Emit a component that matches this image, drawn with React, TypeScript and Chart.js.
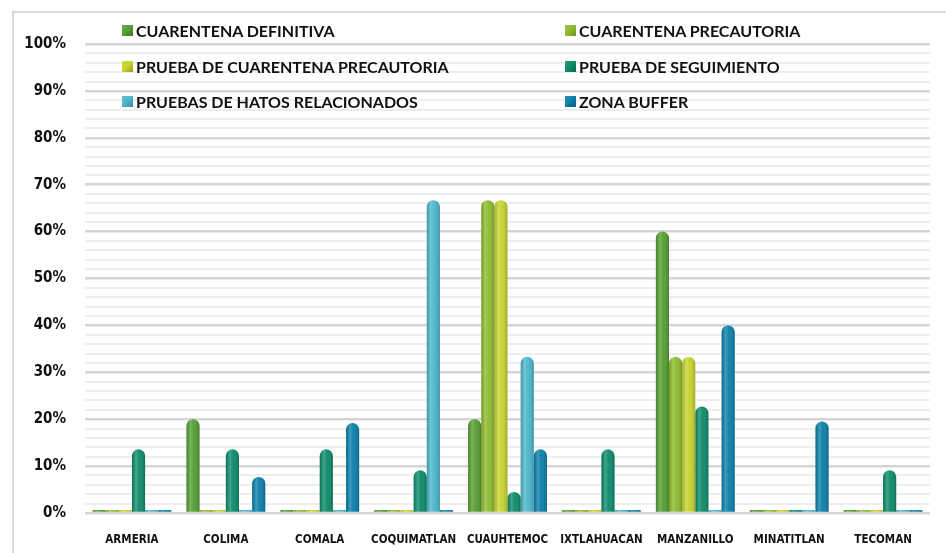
import React, { useEffect, useRef } from "react";
import { Chart, registerables } from "chart.js";

Chart.register(...registerables);

const categories = ["ARMERIA", "COLIMA", "COMALA", "COQUIMATLAN", "CUAUHTEMOC", "IXTLAHUACAN", "MANZANILLO", "MINATITLAN", "TECOMAN"];
const seriesNames = [
  "CUARENTENA DEFINITIVA",
  "CUARENTENA PRECAUTORIA",
  "PRUEBA DE CUARENTENA PRECAUTORIA",
  "PRUEBA DE SEGUIMIENTO",
  "PRUEBAS DE HATOS RELACIONADOS",
  "ZONA BUFFER",
];
const cuarentenaDefinitiva = [0, 20, 0, 0, 20, 0, 60, 0, 0];
const cuarentenaPrecautoria = [0, 0, 0, 0, 66.7, 0, 33.3, 0, 0];
const pruebaCuarentenaPrecautoria = [0, 0, 0, 0, 66.7, 0, 33.3, 0, 0];
const pruebaSeguimiento = [13.6, 13.6, 13.6, 9.1, 4.5, 13.6, 22.7, 0, 9.1];
const pruebasHatos = [0, 0, 0, 66.7, 33.3, 0, 0, 0, 0];
const zonaBuffer = [0, 7.7, 19.2, 0, 13.6, 0, 40, 19.5, 0];
const seriesColors = ["#559d33", "#8dbb2f", "#c6d32f", "#0d8a6b", "#4bb6ca", "#0b7ea8"];
const yTickStep = 2;
const yLabelStep = 10;

const cylinderPlugin = {
  id: "cylinder",
  afterDatasetsDraw(chart: any) {
    const ctx = chart.ctx;
    chart.data.datasets.forEach((_ds: any, i: number) => {
      const meta = chart.getDatasetMeta(i);
      meta.data.forEach((el: any) => {
        const { x, y, base, width } = el.getProps(["x", "y", "base", "width"], true);
        const left = x - width / 2;
        const top = Math.min(y, base);
        const h = Math.abs(base - y);
        if (h <= 0) return;
        const g = ctx.createLinearGradient(left, 0, left + width, 0);
        g.addColorStop(0, "rgba(0,0,0,0.12)");
        g.addColorStop(0.3, "rgba(255,255,255,0.22)");
        g.addColorStop(0.55, "rgba(255,255,255,0.04)");
        g.addColorStop(1, "rgba(0,0,0,0.2)");
        const r = Math.min(width / 2, h);
        ctx.save();
        ctx.beginPath();
        ctx.roundRect(left, top, width, h, [r, r, 0, 0]);
        ctx.fillStyle = g;
        ctx.fill();
        ctx.restore();
      });
    });
  },
};

export default function App() {
  const canvasRef = useRef<HTMLCanvasElement | null>(null);

  useEffect(() => {
    const values = [cuarentenaDefinitiva, cuarentenaPrecautoria, pruebaCuarentenaPrecautoria, pruebaSeguimiento, pruebasHatos, zonaBuffer];
    const chart = new Chart(canvasRef.current as HTMLCanvasElement, {
      type: "bar",
      data: {
        labels: categories,
        datasets: values.map((d, i) => ({
          label: seriesNames[i],
          data: d,
          backgroundColor: seriesColors[i],
          borderRadius: 7,
          borderSkipped: "start",
          minBarLength: 3,
          barPercentage: 1,
          categoryPercentage: 0.84,
        })),
      },
      options: {
        animation: false,
        responsive: true,
        maintainAspectRatio: false,
        layout: { padding: { top: 44, right: 16, bottom: 0, left: 0 } },
        plugins: { legend: { display: false }, tooltip: { enabled: false } },
        scales: {
          x: {
            grid: { display: false },
            border: { display: false },
            afterFit: (s: any) => {
              s.height = 40;
            },
            ticks: {
              padding: 12,
              color: "#111",
              font: { family: "'DejaVu Sans Condensed', 'DejaVu Sans'", size: 11.5, weight: "bold" },
              autoSkip: false,
              maxRotation: 0,
            },
          },
          y: {
            min: 0,
            max: 100,
            border: { display: false },
            afterFit: (s: any) => {
              s.width = 85;
            },
            grid: {
              drawTicks: false,
              color: (c: any) => (c.tick && c.tick.value % yLabelStep === 0 ? "#d5d5d5" : "#eeeeee"),
              lineWidth: (c: any) => (c.tick && c.tick.value % yLabelStep === 0 ? 2.5 : 2),
            },
            ticks: {
              stepSize: yTickStep,
              autoSkip: false,
              padding: 19,
              color: "#111",
              font: { family: "'DejaVu Sans Condensed', 'DejaVu Sans'", size: 15, weight: "bold" },
              callback: (v: any) => (Number(v) % yLabelStep === 0 ? v + "%" : ""),
            },
          },
        },
      },
      plugins: [cylinderPlugin],
    } as any);
    return () => chart.destroy();
  }, []);

  const legendPos = [
    { left: 122, top: 30 },
    { left: 565, top: 30 },
    { left: 122, top: 66 },
    { left: 565, top: 66 },
    { left: 122, top: 101 },
    { left: 565, top: 101 },
  ];

  return (
    <div style={{ position: "fixed", left: 0, top: 0, width: 946, height: 553, background: "#fff", overflow: "hidden" }}>
      <div
        style={{
          position: "absolute",
          left: 12,
          top: 11,
          right: -10,
          bottom: -10,
          borderLeft: "2px solid #d9d9d9",
          borderTop: "2px solid #d9d9d9",
        }}
      />
      <canvas ref={canvasRef} style={{ position: "absolute", left: 0, top: 0 }} />
      {seriesNames.map((n, i) => (
        <div
          key={n}
          style={{
            position: "absolute",
            left: legendPos[i].left,
            top: legendPos[i].top - 10,
            height: 20,
            display: "flex",
            alignItems: "center",
            fontFamily: "Lato, 'Open Sans', sans-serif",
            fontWeight: 700,
            fontSize: 16,
            color: "#111",
            whiteSpace: "nowrap",
          }}
        >
          <span
            style={{
              display: "inline-block",
              width: 11,
              height: 11,
              marginRight: 3,
              backgroundColor: seriesColors[i],
              backgroundImage: "linear-gradient(135deg, rgba(255,255,255,0.15) 0%, rgba(255,255,255,0) 50%, rgba(0,0,0,0.25) 100%)",
            }}
          />
          {n}
        </div>
      ))}
    </div>
  );
}
